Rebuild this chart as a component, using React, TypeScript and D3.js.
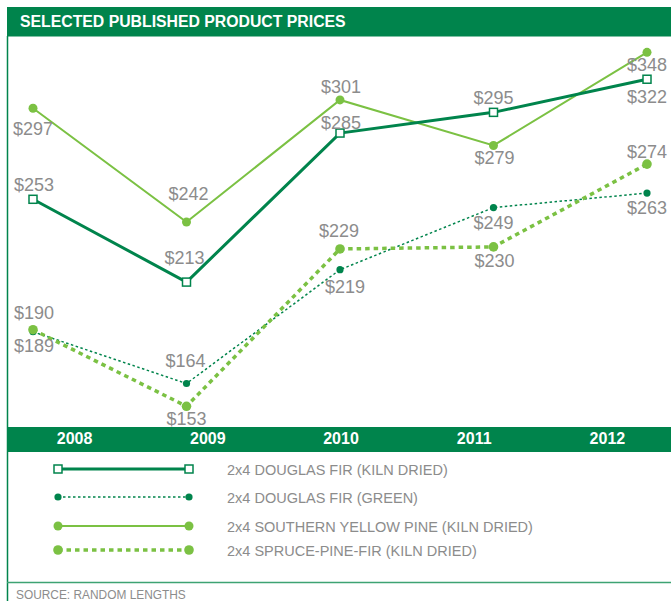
import React from "react";
import * as d3 from "d3";

// ---- data ----
const years = ["2008", "2009", "2010", "2011", "2012"];
const douglasFirKilnDried = [253, 213, 285, 295, 322];
const douglasFirGreen = [189, 164, 219, 249, 263];
const southernYellowPine = [297, 242, 301, 279, 348];
const sprucePineFir = [190, 153, 229, 230, 274];
// Where the reference actually plots each point (its 2012 points were squeezed to fit the frame)
const douglasFirKilnDriedPlotted = [253, 213, 285, 295, 311];
const douglasFirGreenPlotted = [189, 164, 219, 249, 256];
const southernYellowPinePlotted = [297, 242, 301, 279, 324];
const sprucePineFirPlotted = [190, 153, 229, 230, 270];
const seriesNames = [
  "2x4 DOUGLAS FIR (KILN DRIED)",
  "2x4 DOUGLAS FIR (GREEN)",
  "2x4 SOUTHERN YELLOW PINE (KILN DRIED)",
  "2x4 SPRUCE-PINE-FIR (KILN DRIED)",
];
const title = "SELECTED PUBLISHED PRODUCT PRICES";
const source = "SOURCE: RANDOM LENGTHS";

// ---- styles / layout ----
const DARK = "#00844c";
const LIGHT = "#7bc143";
const GREY = "#8c8c8c";
const W = 671;
const H = 601;

type Style = {
  color: string;
  width: number;
  dash?: string;
  marker: "square" | "circle";
  r: number;
};
const styles: Style[] = [
  { color: DARK, width: 3, marker: "square", r: 4 },
  { color: DARK, width: 1.5, dash: "2.5,2.5", marker: "circle", r: 3.6 },
  { color: LIGHT, width: 2, marker: "circle", r: 4.5 },
  { color: LIGHT, width: 3.5, dash: "4.5,4", marker: "circle", r: 4.8 },
];
// label offsets (dx, dy of the baseline relative to the point)
const labelDy = [
  [-8, -18, -4, -8, 24],
  [20, -17, 23, 21, 21],
  [27, -22, -7, 19, 19],
  [-11, 19, -12, 20, -6],
];
const labelDx = [
  [1, -2, 1, 0, 0],
  [1, -1, 5, 0, 0],
  [0, 2, 1, 1, 0],
  [1, 0, -1, 1, 0],
];
const legendY = [469, 497, 526, 550];
const drawOrder = [1, 3, 2, 0];

export default function App() {
  const labels = [douglasFirKilnDried, douglasFirGreen, southernYellowPine, sprucePineFir];
  const plotted = [
    douglasFirKilnDriedPlotted,
    douglasFirGreenPlotted,
    southernYellowPinePlotted,
    sprucePineFirPlotted,
  ];

  const x = d3.scalePoint<string>().domain(years).range([33, 647]);
  const y = d3.scaleLinear().domain([150, 350]).range([412.5, -1.5]);
  const yearBand = d3.scaleBand<string>().domain(years).range([8, 674]);

  const line = d3
    .line<number>()
    .x((_, i) => x(years[i]) as number)
    .y((v) => y(v));

  const marker = (s: Style, cx: number, cy: number, key: string) =>
    s.marker === "square" ? (
      <rect
        key={key}
        x={cx - s.r}
        y={cy - s.r}
        width={s.r * 2}
        height={s.r * 2}
        fill="#fff"
        stroke={s.color}
        strokeWidth={1.5}
      />
    ) : (
      <circle key={key} cx={cx} cy={cy} r={s.r} fill={s.color} />
    );

  const font = "'Liberation Sans', Arial, sans-serif";

  return (
    <svg
      width={W}
      height={H}
      style={{ position: "absolute", left: 0, top: 0, display: "block" }}
      fontFamily={font}
    >
      <rect x={0} y={0} width={W} height={H} fill="#fff" />
      {/* title band */}
      <rect x={7} y={7} width={W - 7} height={29.5} fill={DARK} />
      <text x={20} y={27.3} fill="#fff" fontWeight="bold" fontSize={15.8}>
        {title}
      </text>
      {/* left border */}
      <line x1={7.5} y1={36} x2={7.5} y2={H} stroke={DARK} strokeWidth={1.5} />

      {/* series */}
      {drawOrder.map((si) => {
        const s = styles[si];
        const vals = plotted[si];
        return (
          <g key={si}>
            <path
              d={line(vals) || ""}
              fill="none"
              stroke={s.color}
              strokeWidth={s.width}
              strokeDasharray={s.dash}
            />
            {vals.map((v, i) => marker(s, x(years[i]) as number, y(v), `m${si}-${i}`))}
          </g>
        );
      })}
      {/* data labels */}
      {labels.map((vals, si) =>
        vals.map((v, i) => (
          <text
            key={`l${si}-${i}`}
            x={(x(years[i]) as number) + labelDx[si][i]}
            y={y(plotted[si][i]) + labelDy[si][i]}
            textAnchor="middle"
            fontSize={18}
            fill={GREY}
          >
            {"$" + v}
          </text>
        ))
      )}

      {/* x axis band */}
      <rect x={7} y={427} width={W - 7} height={25} fill={DARK} />
      {years.map((yr) => (
        <text
          key={yr}
          x={(yearBand(yr) as number) + yearBand.bandwidth() / 2}
          y={444.3}
          textAnchor="middle"
          fill="#fff"
          fontWeight="bold"
          fontSize={16}
        >
          {yr}
        </text>
      ))}

      {/* legend */}
      {seriesNames.map((name, si) => {
        const s = styles[si];
        const ly = legendY[si];
        return (
          <g key={name}>
            <line
              x1={58}
              x2={189}
              y1={ly}
              y2={ly}
              stroke={s.color}
              strokeWidth={s.width}
              strokeDasharray={s.dash}
            />
            {marker(s, 58, ly, "a")}
            {marker(s, 189, ly, "b")}
            <text x={227} y={ly + 5.5} fontSize={14.5} fill={GREY}>
              {name}
            </text>
          </g>
        );
      })}
      <line x1={7} x2={W} y1={582.5} y2={582.5} stroke="#3da373" strokeWidth={1.5} />
      <text x={16} y={599.3} fontSize={11.9} fill={GREY}>
        {source}
      </text>
    </svg>
  );
}
